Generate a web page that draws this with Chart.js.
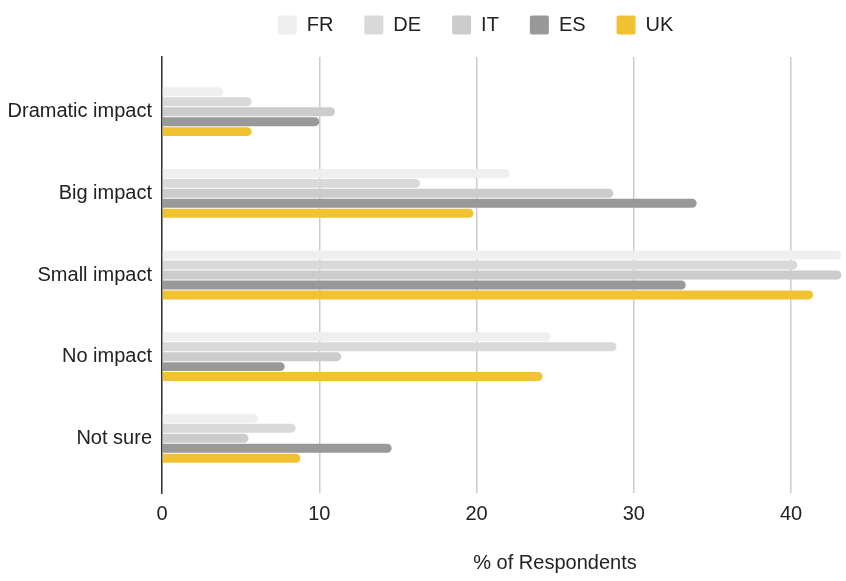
<!DOCTYPE html>
<html lang="en">
<head>
    <meta charset="UTF-8">
    <title>Impact by country</title>
    <script src="https://cdn.jsdelivr.net/npm/chart.js"></script>
    <style>
        html, body { margin: 0; padding: 0; background: #fff; }
        #wrap { width: 846px; height: 581px; }
    </style>
</head>
<body>
    <div id="wrap"><canvas id="chart"></canvas></div>
    <script>
        const categories = ['Dramatic impact', 'Big impact', 'Small impact', 'No impact', 'Not sure'];
        const countries = ['FR', 'DE', 'IT', 'ES', 'UK'];
        const frValues = [3.9, 22.1, 43.2, 24.7, 6.1];
        const deValues = [5.7, 16.4, 40.4, 28.9, 8.5];
        const itValues = [11.0, 28.7, 43.2, 11.4, 5.5];
        const esValues = [10.0, 34.0, 33.3, 7.8, 14.6];
        const ukValues = [5.7, 19.8, 41.4, 24.2, 8.8];
        const xTicks = [0, 10, 20, 30, 40];

        const colors = ['#efefef', '#d9d9d9', '#cccccc', '#999999', '#f1c232'];
        const series = [frValues, deValues, itValues, esValues, ukValues];
        const font = { family: 'Liberation Sans, Arial, sans-serif', size: 20 };

        const datasets = series.map((vals, i) => ({
            label: countries[i],
            data: vals.map((v, j) => ({ x: v, y: j })),
            backgroundColor: colors[i],
            borderWidth: 0,
            borderRadius: 5,
            categoryPercentage: 0.61,
            barPercentage: 0.9
        }));

        // legend sits a bit right of centre and close to the top edge
        const legendShift = {
            id: 'legendShift',
            beforeInit(chart) {
                const fit = chart.legend.fit;
                chart.legend.fit = function () {
                    fit.bind(chart.legend)();
                    this.height = 57;
                };
            },
            afterLayout(chart) {
                chart.legend.left += 54;
                chart.legend.right += 54;
                chart.legend.top -= 16;
                chart.legend.bottom -= 16;
            }
        };

        // axis title, drawn by hand so it can sit off-centre
        const axisTitle = {
            id: 'axisTitle',
            afterDraw(chart) {
                const c = chart.ctx;
                c.save();
                c.font = font.size + 'px ' + font.family;
                c.fillStyle = '#222';
                c.textAlign = 'center';
                c.textBaseline = 'middle';
                c.fillText('% of Respondents', 555, 563);
                c.restore();
            }
        };

        new Chart(document.getElementById('chart'), {
            type: 'bar',
            data: { datasets },
            options: {
                indexAxis: 'y',
                responsive: true,
                maintainAspectRatio: false,
                animation: false,
                layout: { padding: { left: 0, right: 3, top: 0, bottom: 0 } },
                plugins: {
                    legend: {
                        position: 'top',
                        labels: {
                            boxWidth: 19,
                            boxHeight: 19,
                            padding: 31,
                            color: '#222',
                            font: font,
                            useBorderRadius: true,
                            borderRadius: 2
                        }
                    },
                    tooltip: { enabled: false }
                },
                scales: {
                    x: {
                        type: 'linear',
                        min: 0,
                        max: 43.3,
                        afterFit(scale) { scale.height = 88; },
                        afterBuildTicks(scale) { scale.ticks = xTicks.map(v => ({ value: v })); },
                        ticks: { color: '#222', font: font, padding: 9, maxRotation: 0 },
                        grid: { color: '#cccccc', lineWidth: 1.5, drawTicks: false },
                        border: { display: false }
                    },
                    y: {
                        type: 'linear',
                        min: -0.67,
                        max: 4.67,
                        offset: false,
                        reverse: true,
                        afterFit(scale) { scale.width = 162; },
                        ticks: {
                            stepSize: 1,
                            includeBounds: false,
                            autoSkip: false,
                            color: '#222',
                            font: font,
                            padding: 10,
                            callback: v => categories[v]
                        },
                        grid: { display: false, drawTicks: false, offset: false },
                        border: { display: true, color: '#333', width: 1.5 }
                    }
                }
            },
            plugins: [legendShift, axisTitle]
        });
    </script>
</body>
</html>
